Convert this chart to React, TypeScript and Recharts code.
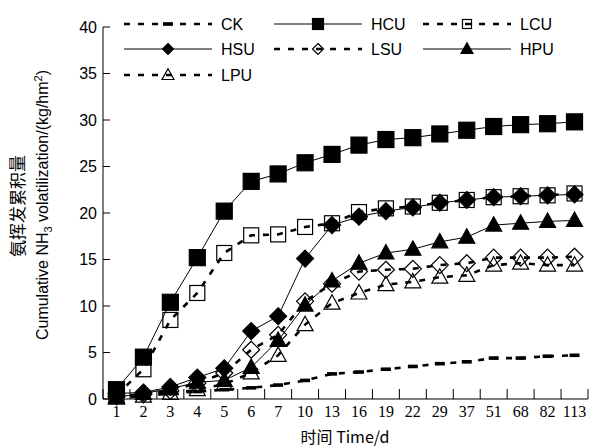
import { ComposedChart, Line, XAxis, YAxis } from 'recharts';

// days after fertilisation
const days = ['1', '2', '3', '4', '5', '6', '7', '10', '13', '16', '19', '22', '29', '37', '51', '68', '82', '113'];

// cumulative NH3 volatilization, kg/hm2
const ck = [0.3, 0.5, 0.6, 0.8, 1.0, 1.2, 1.5, 2.0, 2.7, 2.9, 3.2, 3.5, 3.8, 4.0, 4.4, 4.4, 4.6, 4.7];
const hcu = [1.0, 4.5, 10.4, 15.2, 20.2, 23.4, 24.2, 25.4, 26.3, 27.3, 27.9, 28.1, 28.5, 28.9, 29.3, 29.5, 29.6, 29.8];
const lcu = [0.4, 3.2, 8.5, 11.4, 15.7, 17.6, 17.7, 18.5, 18.9, 20.1, 20.5, 20.7, 21.1, 21.4, 21.7, 21.8, 21.9, 22.1];
const hsu = [0.6, 0.7, 1.3, 2.3, 3.3, 7.3, 8.9, 15.1, 18.7, 19.6, 20.2, 20.6, 21.1, 21.4, 21.7, 21.8, 21.9, 22.0];
const lsu = [0.3, 0.5, 0.9, 1.7, 2.8, 5.3, 6.9, 10.5, 12.4, 13.7, 13.9, 14.0, 14.4, 14.6, 15.2, 15.2, 15.2, 15.3];
const hpu = [0.2, 0.6, 1.1, 1.8, 2.0, 3.4, 6.3, 10.1, 12.7, 14.6, 15.7, 16.1, 16.9, 17.4, 18.7, 18.9, 19.1, 19.2];
const lpu = [0.1, 0.3, 0.6, 1.0, 1.6, 2.8, 4.7, 8.0, 10.3, 11.4, 12.3, 12.6, 13.1, 13.3, 14.4, 14.6, 14.4, 14.4];

const yTicks = [0, 5, 10, 15, 20, 25, 30, 35, 40];

const data = days.map((d, i) => ({
  day: d,
  CK: ck[i],
  HCU: hcu[i],
  LCU: lcu[i],
  HSU: hsu[i],
  LSU: lsu[i],
  HPU: hpu[i],
  LPU: lpu[i],
}));

const SANS = '"Liberation Sans", Arial, sans-serif';
const SERIF = '"Liberation Serif", "Times New Roman", serif';
const DASH = '6 8';

type Shape = 'dash' | 'square' | 'diamond' | 'triangle';

// draws one marker shape centred on cx, cy
function Marker({ cx, cy, shape, filled, size }: { cx: number; cy: number; shape: Shape; filled: boolean; size: number }) {
  const fill = filled ? '#000' : 'none';
  const h = size / 2;
  if (shape === 'dash') {
    return <rect x={cx - 5} y={cy - 1.8} width={10} height={3.6} fill="#000" />;
  }
  if (shape === 'square') {
    return <rect x={cx - h} y={cy - h} width={size} height={size} fill={fill} stroke="#000" strokeWidth={1.2} />;
  }
  if (shape === 'diamond') {
    return (
      <polygon
        points={`${cx},${cy - h} ${cx + h},${cy} ${cx},${cy + h} ${cx - h},${cy}`}
        fill={fill}
        stroke="#000"
        strokeWidth={1.2}
      />
    );
  }
  return (
    <polygon
      points={`${cx},${cy - h * 1.05} ${cx + h},${cy + h * 0.75} ${cx - h},${cy + h * 0.75}`}
      fill={fill}
      stroke="#000"
      strokeWidth={1.2}
    />
  );
}

const seriesDefs: { key: string; shape: Shape; filled: boolean; dashed: boolean; size: number; legendSize: number }[] = [
  { key: 'CK', shape: 'dash', filled: true, dashed: true, size: 10, legendSize: 10 },
  { key: 'HCU', shape: 'square', filled: true, dashed: false, size: 16, legendSize: 11 },
  { key: 'LCU', shape: 'square', filled: false, dashed: true, size: 15, legendSize: 9 },
  { key: 'HSU', shape: 'diamond', filled: true, dashed: false, size: 17, legendSize: 11 },
  { key: 'LSU', shape: 'diamond', filled: false, dashed: true, size: 17, legendSize: 11 },
  { key: 'HPU', shape: 'triangle', filled: true, dashed: false, size: 16, legendSize: 12 },
  { key: 'LPU', shape: 'triangle', filled: false, dashed: true, size: 16, legendSize: 12 },
];

const YTick = (props: any) => {
  const { x, y, payload } = props;
  return (
    <g>
      <line x1={x + 6} x2={x + 13} y1={y} y2={y} stroke="#000" strokeWidth={1} />
      <text x={x} y={y} dy="0.36em" textAnchor="end" fontFamily={SANS} fontSize={16} fill="#000">
        {payload.value}
      </text>
    </g>
  );
};

const XTick = (props: any) => {
  const { x, y, payload, index } = props;
  const off = payload && typeof payload.offset === 'number' ? payload.offset : 13.45;
  const base = y - 6;
  return (
    <g>
      <line x1={x - off} x2={x - off} y1={base} y2={base - 10} stroke="#000" strokeWidth={1} />
      {index === days.length - 1 && (
        <line x1={x + off} x2={x + off} y1={base} y2={base - 10} stroke="#000" strokeWidth={1} />
      )}
      <text x={x} y={y} dy="0.72em" textAnchor="middle" fontFamily={SERIF} fontSize={16} fill="#000">
        {payload.value}
      </text>
    </g>
  );
};

// legend rows as in the original figure
const legendRows = [
  ['CK', 'HCU', 'LCU'],
  ['HSU', 'LSU', 'HPU'],
  ['LPU'],
];
const legendCols = [124, 274, 423];
const legendRowY = [24, 49, 75];

function ChartLegend() {
  return (
    <svg width={597} height={90} style={{ position: 'absolute', left: 0, top: 0 }}>
      {legendRows.map((row, r) =>
        row.map((key, c) => {
          const def = seriesDefs.find((s) => s.key === key)!;
          const x0 = legendCols[c];
          const y = legendRowY[r];
          return (
            <g key={key}>
              <line
                x1={x0}
                x2={x0 + 88}
                y1={y}
                y2={y}
                stroke="#000"
                strokeWidth={def.dashed ? 2.6 : 1}
                strokeDasharray={def.dashed ? DASH : undefined}
              />
              <Marker cx={x0 + 44} cy={y} shape={def.shape} filled={def.filled} size={def.legendSize} />
              <text x={x0 + 97} y={y} dy="0.36em" fontFamily={SANS} fontSize={16} fill="#000">
                {key}
              </text>
            </g>
          );
        })
      )}
    </svg>
  );
}

function AxisTitles() {
  return (
    <svg width={597} height={447} style={{ position: 'absolute', left: 0, top: 0, pointerEvents: 'none' }}>
      <text
        transform="translate(18,206) rotate(-90)"
        textAnchor="middle"
        dy="0.36em"
        fontFamily='"Noto Sans CJK SC", sans-serif'
        fontSize={17}
        fill="#000"
      >
        氨挥发累积量
      </text>
      <text
        transform="translate(42,205) rotate(-90)"
        textAnchor="middle"
        dy="0.36em"
        fontFamily={SANS}
        fontSize={16}
        fill="#000"
      >
        Cumulative NH
        <tspan fontSize={11} dy="4">3</tspan>
        <tspan dy="-4"> volatilization/(kg/hm</tspan>
        <tspan fontSize={11} dy="-6">2</tspan>
        <tspan dy="6">)</tspan>
      </text>
      <text x={345} y={437} dy="0.36em" textAnchor="middle" fontFamily='"Noto Sans CJK SC", sans-serif' fontSize={16} fill="#000">
        时间 Time/d
      </text>
    </svg>
  );
}

export default function App() {
  return (
    <div style={{ position: 'absolute', left: 0, top: 0, width: 597, height: 447, background: '#fff' }}>
      <ComposedChart width={597} height={447} data={data} margin={{ top: 27, right: 9, bottom: 18, left: 60 }}>
        <XAxis
          dataKey="day"
          scale="band"
          height={30}
          tickLine={false}
          tickSize={0}
          tickMargin={6}
          interval={0}
          tick={<XTick />}
          axisLine={{ stroke: '#000', strokeWidth: 1 }}
        />
        <YAxis
          type="number"
          domain={[0, 40]}
          ticks={yTicks}
          width={43}
          tickLine={false}
          tickSize={0}
          tickMargin={6}
          interval={0}
          tick={<YTick />}
          axisLine={{ stroke: '#000', strokeWidth: 1 }}
        />
        {seriesDefs.map((s) => (
          <Line
            key={s.key}
            dataKey={s.key}
            type="linear"
            stroke="#000"
            strokeWidth={s.dashed ? 2.6 : 1}
            strokeDasharray={s.dashed ? DASH : undefined}
            isAnimationActive={false}
            dot={(p: any) => (
              <Marker key={`${s.key}-${p.index}`} cx={p.cx} cy={p.cy} shape={s.shape} filled={s.filled} size={s.size} />
            )}
            activeDot={false}
          />
        ))}
      </ComposedChart>
      <ChartLegend />
      <AxisTitles />
    </div>
  );
}
